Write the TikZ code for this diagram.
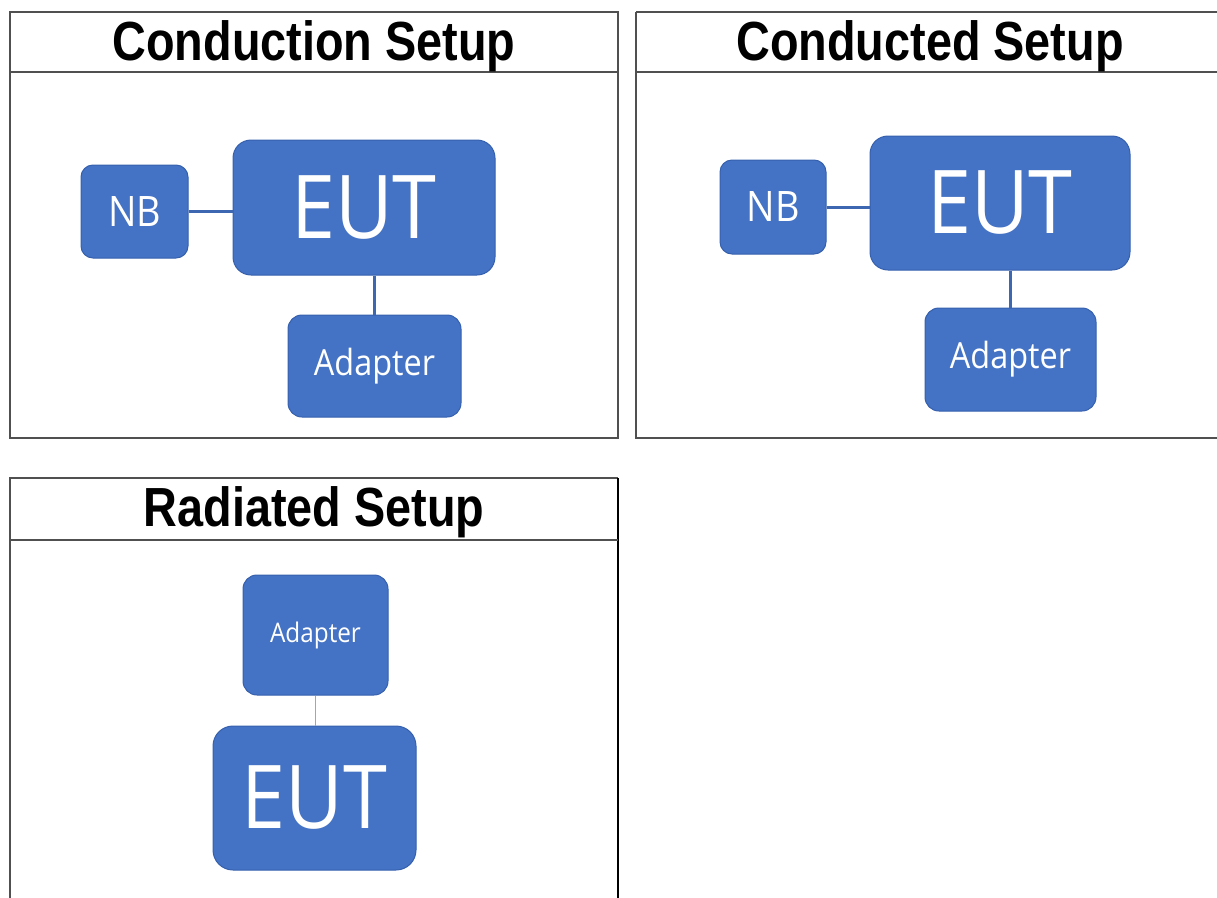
\documentclass[tikz,border=0pt]{standalone}
\usepackage{fontspec}
\setmainfont{Liberation Sans}
\newfontfamily\boxfont{Open Sans}
\definecolor{boxblue}{HTML}{4472C4}
\definecolor{boxedge}{HTML}{3560AE}
\definecolor{framegray}{HTML}{505050}
\newcommand{\sq}[1]{\scalebox{0.9}[1]{#1}}
\newcommand{\sqt}[1]{\scalebox{0.9}[1.06]{#1}}
\tikzset{
  blk/.style={fill=boxblue, draw=boxedge, line width=1pt, text=white, inner sep=0pt, font=\boxfont},
  wire/.style={draw=boxblue!90!black, line width=3pt},
  thinwire/.style={draw=gray!70, line width=1pt},
  frame/.style={draw=framegray, line width=1.5pt},
  ttl/.style={font=\bfseries\fontsize{52}{60}\selectfont, inner sep=0pt}
}
\begin{document}
\begin{tikzpicture}[x=1pt, y=-1pt]
\useasboundingbox (0,0) rectangle (1217,897);
% panel frames
\draw[frame] (10,12) rectangle (618,438);
\draw[frame] (10,72) -- (618,72);
\draw[frame] (636,12) -- (1230,12);
\draw[frame] (636,12) -- (636,438) -- (1230,438);
\draw[frame] (636,72) -- (1230,72);
\draw[frame] (10,920) -- (10,478) -- (618,478);
\draw[draw=black, line width=2.5pt] (618,478) -- (618,920);
\draw[frame] (10,540) -- (618,540);
% titles
\node[ttl] (t1) at (314,46) {\sqt{Conduction Setup}};
\node[ttl] (t2) at (930,46) {\sqt{Conducted Setup}};
\node[ttl] (t3) at (314,512) {\sqt{Radiated Setup}};
% panel 1
\node[blk, rounded corners=12pt, minimum width=107pt, minimum height=93pt, font=\boxfont\fontsize{42}{46}\selectfont] (nb1) at (134.5,211.5) {\sq{NB}};
\node[blk, rounded corners=18pt, minimum width=262pt, minimum height=135pt, font=\boxfont\fontsize{88}{96}\selectfont] (eut1) at (364,207.5) {\sq{EUT}};
\node[blk, rounded corners=14pt, minimum width=173pt, minimum height=102pt, font=\boxfont\fontsize{36}{40}\selectfont] (ad1) at (374.5,366) {\sq{Adapter}};
\draw[wire] (nb1.east) -- (nb1.east -| eut1.west);
\draw[wire] (ad1.north) -- (ad1.north |- eut1.south);
% panel 2
\node[blk, rounded corners=12pt, minimum width=106pt, minimum height=94pt, font=\boxfont\fontsize{42}{46}\selectfont] (nb2) at (773,207) {\sq{NB}};
\node[blk, rounded corners=18pt, minimum width=260pt, minimum height=134pt, font=\boxfont\fontsize{88}{96}\selectfont] (eut2) at (1000,203) {\sq{EUT}};
\node[blk, rounded corners=14pt, minimum width=171pt, minimum height=103pt, font=\boxfont\fontsize{36}{40}\selectfont] (ad2) at (1010.5,359.5) {\sq{Adapter}};
\draw[wire] (nb2.east) -- (nb2.east -| eut2.west);
\draw[wire] (ad2.north) -- (ad2.north |- eut2.south);
% panel 3
\node[blk, rounded corners=14pt, minimum width=145pt, minimum height=120pt, font=\boxfont\fontsize{27}{30}\selectfont] (ad3) at (315.5,635) {\sq{Adapter}};
\node[blk, rounded corners=20pt, minimum width=203pt, minimum height=144pt, font=\boxfont\fontsize{88}{96}\selectfont] (eut3) at (314.5,798) {\sq{EUT}};
\draw[thinwire] (ad3.south) -- (ad3.south |- eut3.north);
\end{tikzpicture}
\end{document}
